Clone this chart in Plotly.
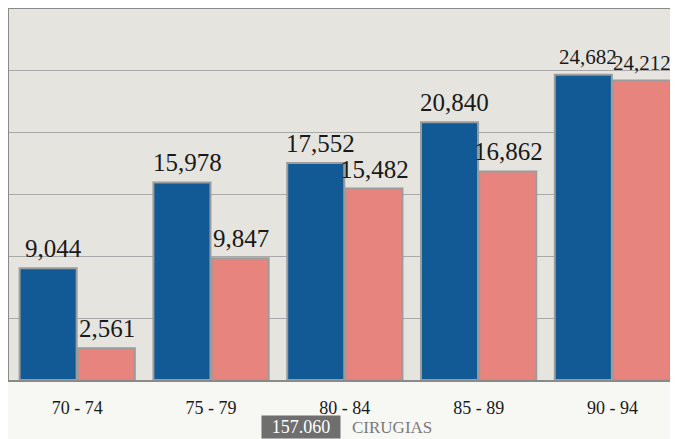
import plotly.graph_objects as go

categories = ["70 - 74", "75 - 79", "80 - 84", "85 - 89", "90 - 94"]
series_blue = [9044, 15978, 17552, 20840, 24682]
series_pink = [2561, 9847, 15482, 16862, 24212]
blue_labels = ["9,044", "15,978", "17,552", "20,840", "24,682"]
pink_labels = ["2,561", "9,847", "15,482", "16,862", "24,212"]
total_label = "157.060"
legend_text = "CIRUGIAS"

LABEL_SIZE = 25
LAST_LABEL_SIZE = 21


def label_font(i):
    return dict(family="Liberation Serif",
                size=LAST_LABEL_SIZE if i == len(categories) - 1 else LABEL_SIZE,
                color="#1a1a1a")


fig = go.Figure()
fig.add_trace(go.Bar(
    x=categories, y=series_blue,
    marker=dict(color="#115a95", line=dict(color="#9c9c9c", width=2)),
    showlegend=False, hoverinfo="skip"))
fig.add_trace(go.Bar(
    x=categories, y=series_pink,
    marker=dict(color="#e8847e", line=dict(color="#9c9c9c", width=2)),
    showlegend=False, hoverinfo="skip"))

annotations = []
for i, (cat, v, lab) in enumerate(zip(categories, series_blue, blue_labels)):
    annotations.append(dict(x=cat, y=v, text=lab, xshift=-24, yshift=4, yanchor="bottom",
                            showarrow=False, font=label_font(i)))
for i, (cat, v, lab) in enumerate(zip(categories, series_pink, pink_labels)):
    annotations.append(dict(x=cat, y=v, text=lab, xshift=30, yshift=4, yanchor="bottom",
                            showarrow=False, font=label_font(i)))

annotations += [
    dict(xref="paper", yref="paper", x=0.437, y=-0.128, xanchor="center", yanchor="middle",
         text=total_label, showarrow=False, bgcolor="#6f6f6f",
         font=dict(family="Liberation Serif", size=18, color="white"),
         borderpad=1, width=76),
    dict(xref="paper", yref="paper", x=0.51, y=-0.128, xanchor="left", yanchor="middle",
         text=legend_text, showarrow=False,
         font=dict(family="Liberation Serif", size=17, color="#7a7a7a")),
]

fig.update_layout(
    width=670, height=431,
    margin=dict(l=1, r=0, t=1, b=59, autoexpand=False),
    paper_bgcolor="#f7f7f4",
    plot_bgcolor="#e5e4df",
    barmode="group", bargap=0.13, bargroupgap=0.02,
    xaxis=dict(
        range=[-0.51, 4.49], showgrid=False, zeroline=False, automargin=False,
        showline=True, linecolor="#8a8a8a", linewidth=2, mirror=True,
        ticks="", ticklabelstandoff=10,
        tickfont=dict(family="Liberation Serif", size=18, color="#1a1a1a"),
    ),
    yaxis=dict(
        range=[0, 30000], dtick=5000, showticklabels=False, automargin=False,
        showgrid=True, gridcolor="#a9a9a9", gridwidth=1, zeroline=False,
        showline=True, linecolor="#8a8a8a", linewidth=2, mirror=True,
    ),
    annotations=annotations,
)

fig.write_html("out.html")
